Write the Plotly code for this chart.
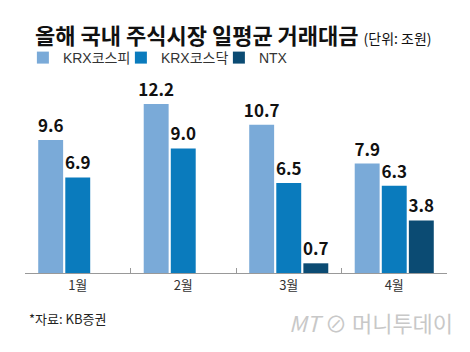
import plotly.graph_objects as go

months = ["1월", "2월", "3월", "4월"]
kospi = [9.6, 12.2, 10.7, 7.9]
kosdaq = [6.9, 9.0, 6.5, 6.3]
ntx = [None, None, 0.7, 3.8]

series_names = ["KRX코스피", "KRX코스닥", "NTX"]
colors = ["#7AAAD8", "#0A7BBD", "#0B4B73"]

FONT = "Noto Sans CJK KR, Roboto, sans-serif"

fig = go.Figure()
for name, vals, col in zip(series_names, [kospi, kosdaq, ntx], colors):
    fig.add_trace(go.Bar(
        x=months, y=vals, name=name, marker=dict(color=col, line=dict(width=0)),
        text=[("" if v is None else f"{v:.1f}") for v in vals],
        textposition="outside", constraintext="none",
        textfont=dict(family=FONT, size=17, color="#111111", weight="bold"),
        cliponaxis=False,
    ))

plot_h = 352 - 93 - 79
def py(pix_y):
    return (352 - 79 - pix_y) / plot_h

fig.update_layout(
    width=470, height=352,
    margin=dict(l=25, r=23, t=93, b=79),
    paper_bgcolor="white", plot_bgcolor="white",
    barmode="group", bargap=0.23, bargroupgap=0.08,
    font=dict(family=FONT, color="#222222"),
    showlegend=True,
    legend=dict(orientation="h", x=-0.005, y=py(58), xanchor="left", yanchor="middle",
                font=dict(family="Liberation Sans, Arial, Noto Sans CJK KR, sans-serif", size=14, color="#333333"),
                entrywidth=53, entrywidthmode="pixels",
                itemwidth=30, bgcolor="rgba(0,0,0,0)"),
    xaxis=dict(showline=True, linecolor="#999999", linewidth=1,
               ticks="inside", ticklen=5, tickcolor="#999999", tickson="boundaries",
               tickfont=dict(family=FONT, size=13, color="#333333"),
               showgrid=False, zeroline=False),
    yaxis=dict(range=[0, 13], visible=False, showgrid=False, zeroline=False),
    annotations=[
        dict(text="<b>올해 국내 주식시장 일평균 거래대금</b> <span style='font-size:14px;font-weight:normal'>(단위: 조원)</span>",
             xref="paper", yref="paper", x=0.02, y=py(34), xanchor="left", yanchor="middle",
             showarrow=False, font=dict(family=FONT, size=22, color="#111111")),
        dict(text="*자료: KB증권", xref="paper", yref="paper", x=0.005, y=py(318),
             xanchor="left", yanchor="middle", showarrow=False,
             font=dict(family=FONT, size=13, color="#222222")),
        dict(text="<i>MT</i> ⊘ 머니투데이", xref="paper", yref="paper", x=1.02, y=py(322),
             xanchor="right", yanchor="middle", showarrow=False,
             font=dict(family=FONT, size=22, color="#C8C8C8")),
    ],
)

fig.write_html("out.html")
